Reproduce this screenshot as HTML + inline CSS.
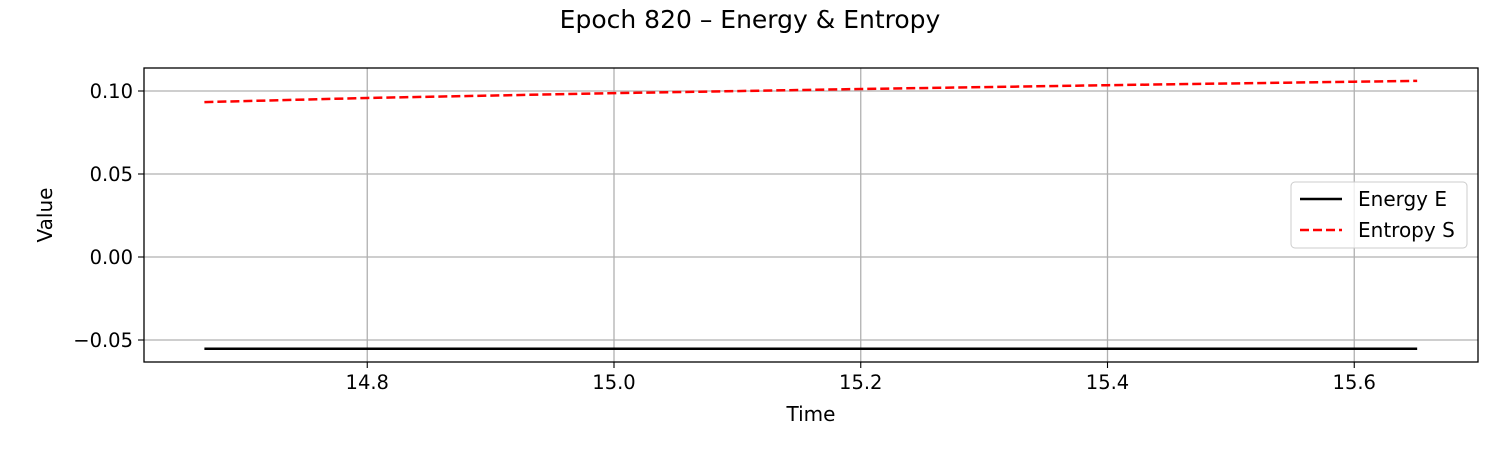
<!DOCTYPE html>
<html><head><meta charset="utf-8"><style>
body{margin:0;background:#fff;font-family:"Liberation Sans","DejaVu Sans",sans-serif;}
svg text{font-family:"DejaVu Sans","Liberation Sans",sans-serif;}
</style></head><body>
<svg id="chart" width="1500" height="450" xmlns="http://www.w3.org/2000/svg">
<rect width="1500" height="450" fill="#fff"/>
<text x="750" y="28" font-size="25" text-anchor="middle">Epoch 820 – Energy &amp; Entropy</text>
<g id="grid"></g><g id="ticks"></g><g id="series"></g>
<rect x="144" y="68" width="1334" height="294" fill="none" stroke="#000" stroke-width="1.3"/>
<text x="811" y="421" font-size="20" text-anchor="middle">Time</text>
<text transform="translate(52,215) rotate(-90)" font-size="20" text-anchor="middle">Value</text>
<g>
<rect x="1291" y="182" width="176" height="66" rx="4" fill="#fff" fill-opacity="0.8" stroke="#ccc"/>
<line x1="1300" y1="199" x2="1342" y2="199" stroke="#000" stroke-width="2.5"/>
<text x="1358" y="206" font-size="20">Energy E</text>
<line x1="1300" y1="230" x2="1342" y2="230" stroke="#f00" stroke-width="2.5" stroke-dasharray="9,4"/>
<text x="1358" y="237" font-size="20">Entropy S</text>
</g>
</svg>
<script>
const xTicks=[14.8,15.0,15.2,15.4,15.6];
const yTicks=[0.10,0.05,0.00,-0.05];
const yTickLabels=["0.10","0.05","0.00","\u22120.05"];
const times=[14.668,14.8,15.0,15.2,15.4,15.6,15.651];
const energy=[-0.0553,-0.0553,-0.0553,-0.0553,-0.0553,-0.0553,-0.0553];
const entropy=[0.0933,0.0958,0.0987,0.1012,0.1035,0.1056,0.1061];
const NS="http://www.w3.org/2000/svg";
const xs=v=>614+(v-15.0)/0.2*246.75;
const ys=v=>257-v/0.05*83;
function mk(t,a,p){const e=document.createElementNS(NS,t);for(const k in a)e.setAttribute(k,a[k]);p.appendChild(e);return e;}
const g=document.getElementById('grid'),tk=document.getElementById('ticks'),s=document.getElementById('series');
xTicks.forEach(v=>{const x=xs(v);
const l=mk('line',{x1:x,x2:x,y1:68,y2:362,stroke:'#b0b0b0','stroke-width':1.3},g);


mk('line',{x1:x,x2:x,y1:362,y2:368,stroke:'#000','stroke-width':1.1},tk);
const t=mk('text',{x:x,y:389,'font-size':19.5,'text-anchor':'middle'},tk);t.textContent=v.toFixed(1);

});
yTicks.forEach((v,i)=>{const y=ys(v);
const l=mk('line',{x1:144,x2:1478,y1:y,y2:y,stroke:'#b0b0b0','stroke-width':1.3},g);


mk('line',{x1:138,x2:144,y1:y,y2:y,stroke:'#000','stroke-width':1.1},tk);
const t=mk('text',{x:133,y:y+7,'font-size':19.5,'text-anchor':'end'},tk);t.textContent=yTickLabels[i];

});
const pts=a=>times.map((t,i)=>xs(t)+','+ys(a[i])).join(' ');
const e=mk('polyline',{points:pts(energy),fill:'none',stroke:'#000','stroke-width':2.5},s);


const en=mk('polyline',{points:pts(entropy),fill:'none',stroke:'#f00','stroke-width':2.5,'stroke-dasharray':'9,4'},s);


</script>
</body></html>
